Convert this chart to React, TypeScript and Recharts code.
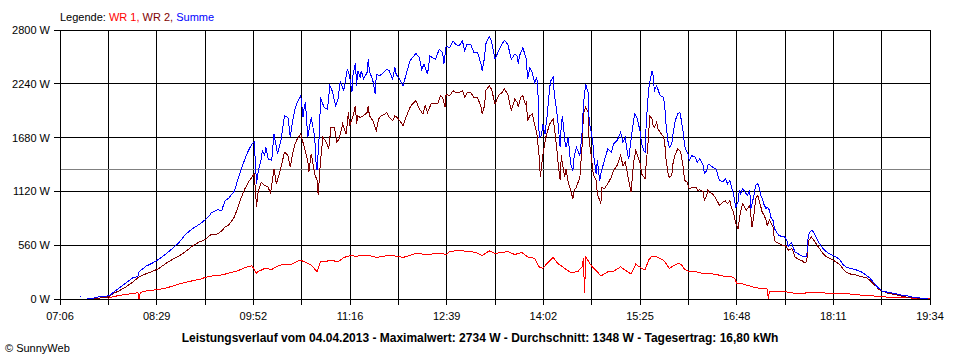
import { LineChart, Line, XAxis, YAxis, CartesianGrid, ReferenceLine } from "recharts";

// axis labels
const xLabels = ["07:06", "08:29", "09:52", "11:16", "12:39", "14:02", "15:25", "16:48", "18:11", "19:34"];
const yTicks = [0, 560, 1120, 1680, 2240, 2800];
const average = 1348;

// WR 1
const wr1Time = [
  "07:47", "07:52", "07:57", "08:03", "08:09", "08:13", "08:14", "08:15", "08:20", "08:26", "08:31", "08:37", "08:43", "08:48", "08:54", "09:00", "09:06",
  "09:11", "09:16", "09:22", "09:28", "09:33", "09:39", "09:45", "09:51", "09:55", "09:56", "10:02", "10:08", "10:13", "10:19", "10:25", "10:30", "10:33",
  "10:36", "10:42", "10:47", "10:50", "10:53", "10:59", "11:05", "11:10", "11:15", "11:21", "11:27", "11:32", "11:38", "11:44", "11:49", "11:55", "12:01",
  "12:07", "12:12", "12:18", "12:24", "12:29", "12:35", "12:38", "12:41", "12:46", "12:52", "12:58", "13:03", "13:09", "13:15", "13:20", "13:26", "13:31",
  "13:37", "13:43", "13:48", "13:54", "13:58", "14:01", "14:06", "14:10", "14:14", "14:20", "14:25", "14:31", "14:35", "14:36", "14:37", "14:38", "14:43",
  "14:48", "14:51", "14:57", "15:02", "15:08", "15:14", "15:17", "15:21", "15:25", "15:29", "15:32", "15:35", "15:39", "15:45", "15:47", "15:50", "15:53",
  "15:57", "16:00", "16:03", "16:07", "16:13", "16:19", "16:24", "16:30", "16:36", "16:42", "16:46", "16:48", "16:53", "16:59", "17:04", "17:10", "17:14",
  "17:15", "17:16", "17:21", "17:27", "17:29", "17:38", "17:46", "17:48", "17:58", "18:09", "18:23", "18:26", "18:38", "18:46", "18:55", "19:06", "19:18",
  "19:29", "19:34",
];
const wr1 = [
  7, 24, 38, 48, 58, 66, 0, 69, 83, 93, 100, 114, 135, 156, 173, 190, 204,
  225, 239, 245, 259, 277, 294, 328, 346, 266, 283, 318, 308, 342, 363, 360, 394, 404,
  387, 353, 283, 387, 387, 404, 387, 432, 450, 446, 456, 453, 432, 446, 453, 446, 432,
  456, 474, 467, 463, 477, 474, 460, 494, 501, 501, 494, 487, 453, 501, 474, 484, 494,
  463, 484, 439, 422, 335, 318, 387, 432, 370, 318, 277, 283, 335, 430, 59, 439, 342,
  283, 239, 283, 290, 335, 283, 259, 363, 328, 301, 404, 446, 439, 404, 370, 318, 342,
  370, 360, 311, 283, 283, 266, 266, 256, 239, 239, 214, 162, 156, 135, 118, 107, 104,
  0, 83, 83, 76, 76, 59, 59, 66, 66, 59, 59, 48, 38, 31, 21, 17, 10,
  7, 3,
];

// WR 2
const wr2Time = [
  "07:34", "07:40", "07:46", "07:49", "07:52", "07:57", "08:03", "08:09", "08:14", "08:20", "08:26", "08:31", "08:37", "08:43", "08:48", "08:54", "09:00",
  "09:06", "09:11", "09:14", "09:16", "09:19", "09:22", "09:25", "09:28", "09:31", "09:33", "09:36", "09:39", "09:42", "09:45", "09:48", "09:51", "09:53",
  "09:55", "09:56", "09:59", "10:02", "10:05", "10:07", "10:09", "10:10", "10:12", "10:15", "10:18", "10:19", "10:22", "10:24", "10:26", "10:28", "10:30",
  "10:33", "10:36", "10:39", "10:40", "10:42", "10:45", "10:47", "10:48", "10:50", "10:52", "10:55", "10:57", "10:59", "11:02", "11:04", "11:06", "11:09",
  "11:12", "11:14", "11:15", "11:17", "11:18", "11:20", "11:21", "11:22", "11:24", "11:27", "11:30", "11:31", "11:32", "11:35", "11:38", "11:40", "11:42",
  "11:45", "11:47", "11:49", "11:52", "11:54", "11:57", "11:59", "12:01", "12:04", "12:07", "12:09", "12:12", "12:15", "12:18", "12:20", "12:22", "12:25",
  "12:28", "12:31", "12:33", "12:35", "12:37", "12:38", "12:41", "12:44", "12:46", "12:49", "12:52", "12:54", "12:56", "12:59", "13:02", "13:05", "13:08",
  "13:09", "13:11", "13:12", "13:15", "13:17", "13:20", "13:23", "13:26", "13:28", "13:31", "13:34", "13:37", "13:39", "13:40", "13:42", "13:44", "13:46",
  "13:47", "13:48", "13:50", "13:52", "13:54", "13:56", "13:58", "13:59", "14:01", "14:04", "14:07", "14:10", "14:11", "14:13", "14:14", "14:16", "14:17",
  "14:18", "14:20", "14:21", "14:23", "14:25", "14:27", "14:28", "14:30", "14:33", "14:35", "14:36", "14:38", "14:40", "14:41", "14:43", "14:44", "14:45",
  "14:47", "14:48", "14:51", "14:52", "14:54", "14:57", "15:00", "15:02", "15:05", "15:08", "15:10", "15:12", "15:15", "15:17", "15:19", "15:21", "15:25",
  "15:26", "15:28", "15:29", "15:30", "15:32", "15:33", "15:35", "15:36", "15:37", "15:39", "15:40", "15:42", "15:45", "15:46", "15:47", "15:49", "15:50",
  "15:52", "15:53", "15:55", "15:56", "15:57", "15:59", "16:00", "16:02", "16:03", "16:05", "16:06", "16:07", "16:10", "16:13", "16:14", "16:16", "16:19",
  "16:20", "16:22", "16:23", "16:24", "16:27", "16:30", "16:33", "16:36", "16:38", "16:40", "16:42", "16:43", "16:45", "16:47", "16:49", "16:50", "16:51",
  "16:53", "16:56", "16:57", "16:59", "17:01", "17:03", "17:04", "17:06", "17:07", "17:09", "17:10", "17:11", "17:13", "17:14", "17:16", "17:17", "17:19",
  "17:20", "17:21", "17:24", "17:27", "17:29", "17:31", "17:32", "17:35", "17:36", "17:38", "17:41", "17:44", "17:46", "17:48", "17:49", "17:50", "17:52",
  "17:54", "17:56", "17:59", "18:02", "18:05", "18:08", "18:11", "18:13", "18:16", "18:19", "18:22", "18:26", "18:31", "18:35", "18:39", "18:42", "18:45",
  "18:48", "18:50", "18:53", "18:58", "19:03", "19:09", "19:15", "19:20", "19:26", "19:32",
];
const wr2 = [
  7, 10, 17, 31, 59, 86, 128, 180, 232, 263, 290, 318, 370, 415, 446, 494, 553,
  595, 619, 653, 674, 667, 681, 709, 750, 771, 802, 854, 958, 1061, 1148, 1217, 1269, 1303,
  958, 1096, 1217, 1182, 1165, 1096, 1269, 1355, 1200, 1321, 1476, 1528, 1493, 1372, 1511, 1614, 1666,
  1718, 1580, 1442, 1321, 1511, 1303, 1234, 1079, 1442, 1684, 1632, 1563, 1787, 1787, 1632, 1666, 1822,
  1718, 1943, 1805, 1874, 1908, 2012, 1822, 1908, 1891, 1908, 1943, 2012, 1908, 1856, 1753, 1874, 1908,
  1919, 1943, 1891, 1856, 1908, 1874, 1839, 1805, 1908, 1995, 2029, 2064, 1977, 1926, 2012, 1943, 2029,
  2036, 2036, 2116, 2098, 1995, 2133, 2116, 2168, 2150, 2150, 2168, 2098, 2150, 2150, 2098, 2098, 1995,
  1926, 2012, 2168, 2219, 2185, 2029, 2116, 2150, 2185, 2133, 1960, 2081, 2047, 1995, 2098, 2116, 2029,
  2047, 1856, 1908, 1926, 1822, 1718, 1476, 1269, 1493, 1701, 1822, 1874, 1787, 1580, 1442, 1234, 1493,
  1407, 1269, 1355, 1217, 1130, 1044, 1130, 1165, 1269, 1614, 1926, 1995, 1943, 1632, 1476, 1338, 1286,
  1234, 1096, 992, 1165, 1148, 1200, 1269, 1338, 1390, 1493, 1390, 1424, 1234, 1113, 1407, 1545, 1407,
  1303, 1269, 1251, 1407, 1684, 1908, 1874, 1805, 1787, 1839, 1770, 1735, 1684, 1614, 1459, 1286, 1269,
  1286, 1407, 1511, 1528, 1563, 1545, 1511, 1355, 1234, 1217, 1182, 1148, 1165, 1165, 1130, 1137, 1120,
  1027, 1079, 1137, 1113, 1096, 1044, 975, 1009, 1020, 992, 1027, 958, 906, 785, 733, 819, 906,
  992, 923, 940, 975, 750, 906, 1044, 1079, 1027, 940, 888, 888, 819, 767, 819, 802, 750,
  646, 595, 577, 560, 560, 536, 508, 525, 508, 439, 411, 398, 377, 387, 543, 612, 646,
  612, 577, 525, 474, 439, 422, 404, 387, 363, 318, 277, 259, 249, 232, 225, 197, 162,
  128, 100, 83, 59, 48, 31, 17, 14, 7, 3,
];

// Summe
const sumTime = [
  "07:23", "07:24", "07:26", "07:29", "07:34", "07:40", "07:46", "07:49", "07:52", "07:57", "08:03", "08:09", "08:13", "08:14", "08:20", "08:26", "08:31",
  "08:37", "08:43", "08:48", "08:54", "09:00", "09:06", "09:11", "09:14", "09:16", "09:19", "09:22", "09:25", "09:26", "09:28", "09:31", "09:33", "09:36",
  "09:39", "09:42", "09:45", "09:48", "09:51", "09:53", "09:55", "09:56", "09:59", "10:00", "10:02", "10:03", "10:05", "10:08", "10:10", "10:12", "10:13",
  "10:16", "10:19", "10:22", "10:24", "10:26", "10:28", "10:30", "10:33", "10:35", "10:36", "10:37", "10:39", "10:42", "10:45", "10:46", "10:47", "10:49",
  "10:50", "10:53", "10:56", "10:58", "11:00", "11:03", "11:05", "11:07", "11:10", "11:13", "11:15", "11:17", "11:18", "11:20", "11:21", "11:22", "11:24",
  "11:25", "11:27", "11:30", "11:31", "11:32", "11:35", "11:37", "11:38", "11:41", "11:44", "11:47", "11:49", "11:52", "11:54", "11:55", "11:58", "12:01",
  "12:04", "12:07", "12:09", "12:12", "12:15", "12:17", "12:19", "12:22", "12:24", "12:26", "12:29", "12:32", "12:35", "12:36", "12:38", "12:41", "12:44",
  "12:46", "12:49", "12:52", "12:54", "12:56", "12:59", "13:02", "13:05", "13:08", "13:09", "13:11", "13:12", "13:15", "13:17", "13:20", "13:23", "13:26",
  "13:28", "13:31", "13:34", "13:37", "13:39", "13:40", "13:41", "13:44", "13:46", "13:47", "13:48", "13:50", "13:52", "13:54", "13:56", "13:57", "13:58",
  "14:00", "14:01", "14:03", "14:05", "14:07", "14:08", "14:10", "14:11", "14:13", "14:14", "14:16", "14:17", "14:18", "14:20", "14:21", "14:23", "14:24",
  "14:25", "14:27", "14:28", "14:30", "14:33", "14:35", "14:36", "14:38", "14:40", "14:41", "14:43", "14:44", "14:45", "14:47", "14:48", "14:50", "14:51",
  "14:54", "14:57", "15:00", "15:02", "15:05", "15:08", "15:10", "15:12", "15:14", "15:15", "15:17", "15:18", "15:20", "15:22", "15:25", "15:26", "15:28",
  "15:29", "15:30", "15:32", "15:33", "15:35", "15:36", "15:37", "15:39", "15:40", "15:42", "15:45", "15:46", "15:47", "15:49", "15:50", "15:52", "15:53",
  "15:55", "15:56", "15:57", "15:59", "16:00", "16:02", "16:03", "16:05", "16:06", "16:07", "16:09", "16:12", "16:14", "16:16", "16:19", "16:20", "16:22",
  "16:23", "16:24", "16:27", "16:30", "16:33", "16:36", "16:38", "16:40", "16:42", "16:43", "16:45", "16:47", "16:49", "16:50", "16:51", "16:53", "16:56",
  "16:57", "16:59", "17:00", "17:01", "17:03", "17:04", "17:06", "17:07", "17:09", "17:10", "17:11", "17:13", "17:14", "17:16", "17:17", "17:19", "17:20",
  "17:21", "17:24", "17:27", "17:29", "17:31", "17:32", "17:34", "17:35", "17:36", "17:38", "17:41", "17:44", "17:46", "17:48", "17:49", "17:50", "17:52",
  "17:54", "17:56", "17:59", "18:02", "18:05", "18:08", "18:11", "18:13", "18:16", "18:19", "18:22", "18:26", "18:31", "18:35", "18:39", "18:42", "18:45",
  "18:48", "18:50", "18:53", "18:58", "19:03", "19:09", "19:15", "19:20", "19:26", "19:32",
];
const sum = [
  21, 21, null, 7, 7, 24, 31, 41, 69, 117, 169, 225, 232, 283, 342, 377, 415,
  467, 529, 584, 674, 733, 778, 826, 861, 895, 916, 930, 916, 958, 1027, 1047, 1079, 1123,
  1251, 1355, 1459, 1545, 1614, 1632, 1200, 1303, 1459, 1545, 1493, 1580, 1459, 1442, 1718, 1580, 1511,
  1649, 1908, 1891, 1684, 1856, 1977, 2047, 2116, 1891, 1995, 2047, 1684, 1891, 1684, 1442, 1338, 1718,
  2098, 1995, 1977, 2219, 2168, 2012, 2081, 2271, 2168, 2392, 2323, 2150, 2340, 2461, 2219, 2375, 2306,
  2375, 2289, 2358, 2496, 2375, 2271, 2133, 2340, 2323, 2358, 2392, 2375, 2289, 2410, 2340, 2289, 2219,
  2358, 2479, 2513, 2555, 2513, 2392, 2444, 2340, 2531, 2513, 2496, 2600, 2565, 2444, 2634, 2617, 2686,
  2652, 2634, 2686, 2582, 2652, 2652, 2565, 2565, 2444, 2375, 2513, 2652, 2734, 2686, 2496, 2582, 2652,
  2693, 2652, 2496, 2548, 2531, 2444, 2531, 2617, 2531, 2496, 2289, 2410, 2358, 2254, 2306, 2116, 1684,
  1701, 1822, 1718, 1926, 2202, 2271, 2306, 2133, 1960, 1856, 1580, 1822, 1908, 1649, 1580, 1684, 1545,
  1407, 1338, 1476, 1580, 1493, 1753, 2029, 2237, 2150, 1839, 1718, 1649, 1476, 1303, 1442, 1234, 1303,
  1442, 1563, 1528, 1614, 1649, 1735, 1632, 1684, 1511, 1459, 1666, 1753, 1926, 1891, 1735, 1614, 1545,
  1528, 1822, 2168, 2254, 2375, 2323, 2168, 2219, 2185, 2116, 2098, 1995, 1822, 1614, 1580, 1614, 1718,
  1856, 1891, 1926, 1943, 1874, 1718, 1597, 1528, 1511, 1442, 1493, 1476, 1424, 1459, 1390, 1303, 1338,
  1390, 1407, 1372, 1355, 1234, 1217, 1251, 1200, 1234, 1182, 1096, 958, 1009, 1130, 1096, 1148, 1096,
  1079, 1130, 940, 992, 1096, 1182, 1200, 1165, 1061, 1044, 992, 940, 958, 923, 854, 819, 750,
  715, 664, 646, 646, 612, 543, 577, 584, 543, 491, 467, 446, 439, 439, 612, 681, 715,
  698, 646, 577, 525, 491, 467, 449, 439, 415, 363, 328, 318, 301, 283, 249, 221, 180,
  135, 111, 83, 69, 59, 41, 31, 17, 10, 7,
];

const toMin = (s: string) => Number(s.slice(0, 2)) * 60 + Number(s.slice(3));
const toSeries = (times: string[], values: (number | null)[]) =>
  times.map((t, i) => ({ t: toMin(t), v: values[i] }));

const wr1Data = toSeries(wr1Time, wr1);
const wr2Data = toSeries(wr2Time, wr2);
const sumData = toSeries(sumTime, sum);

const start = toMin(xLabels[0]);
const end = toMin(xLabels[xLabels.length - 1]);
// grid line every half label step
const xTicks = Array.from({ length: 19 }, (_, i) => start + ((end - start) * i) / 18);

const font = "'Liberation Sans', Arial, sans-serif";
const tickStyle = { fill: "#000", fontSize: 11, fontFamily: font };

// crisp 1px lines like the original bitmap
const css = `
.recharts-cartesian-grid line,
.recharts-cartesian-axis-line,
.recharts-cartesian-axis-tick-line,
.recharts-reference-line line,
.recharts-line-curve { shape-rendering: crispEdges; }
`;

export default function App() {
  return (
    <div style={{ position: "absolute", left: 0, top: 0, width: 960, height: 360, background: "#fff", fontFamily: font }}>
      <style>{css}</style>
      <LineChart width={960} height={360} margin={{ top: 30, right: 30, left: 0, bottom: 0 }}>
        <CartesianGrid stroke="#000" strokeWidth={1} />
        <XAxis
          dataKey="t"
          type="number"
          domain={[start, end]}
          ticks={xTicks}
          interval={0}
          tickFormatter={(_v: number, i: number) => (i % 2 === 0 ? xLabels[i / 2] : "")}
          tick={tickStyle}
          tickSize={6}
          tickMargin={7}
          height={61}
          stroke="#000"
          allowDataOverflow
        />
        <YAxis
          type="number"
          domain={[0, 2800]}
          ticks={yTicks}
          interval={0}
          tickFormatter={(v: number) => `${v} W`}
          tick={tickStyle}
          tickSize={6}
          tickMargin={4}
          width={60}
          stroke="#000"
        />
        <ReferenceLine y={average} stroke="#808080" strokeWidth={1} />
        <Line data={wr1Data} dataKey="v" type="linear" stroke="#ff0000" strokeWidth={1} dot={false} isAnimationActive={false} />
        <Line data={wr2Data} dataKey="v" type="linear" stroke="#800000" strokeWidth={1} dot={false} isAnimationActive={false} />
        <Line data={sumData} dataKey="v" type="linear" stroke="#0000ff" strokeWidth={1} dot={false} isAnimationActive={false} />
      </LineChart>
      <svg width={960} height={360} style={{ position: "absolute", left: 0, top: 0, pointerEvents: "none" }}>
        <text x={60} y={20.5} fontSize={11} fontFamily={font}>
          <tspan fill="#000">{"Legende: "}</tspan>
          <tspan fill="#ff0000">{"WR 1, "}</tspan>
          <tspan fill="#800000">{"WR 2, "}</tspan>
          <tspan fill="#0000ff">Summe</tspan>
        </text>
        <text x={480} y={341.5} fontSize={12} fontWeight="bold" textAnchor="middle" fontFamily={font} fill="#000">
          Leistungsverlauf vom 04.04.2013 - Maximalwert: 2734 W - Durchschnitt: 1348 W - Tagesertrag: 16,80 kWh
        </text>
        <text x={5} y={352} fontSize={11} fontFamily={font} fill="#000">
          © SunnyWeb
        </text>
      </svg>
    </div>
  );
}
